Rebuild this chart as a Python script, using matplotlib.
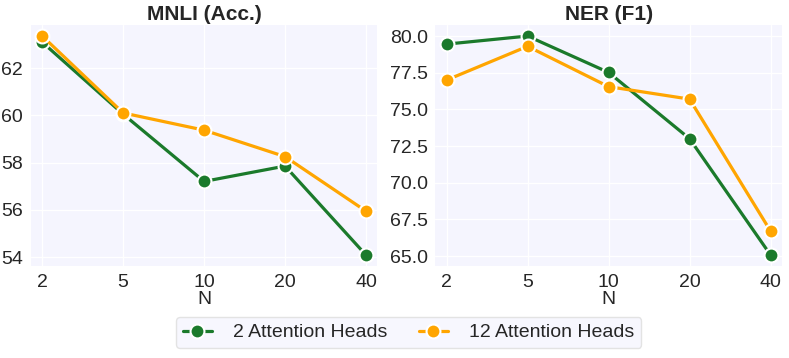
import matplotlib
matplotlib.use("Agg")
import matplotlib.pyplot as plt
import seaborn as sns

sns.set_style("darkgrid")
plt.rcParams["font.family"] = ["Liberation Sans", "DejaVu Sans"]

n_values = ["2", "5", "10", "20", "40"]
mnli_2heads = [63.1, 60.05, 57.2, 57.85, 54.08]
mnli_12heads = [63.36, 60.1, 59.37, 58.25, 55.94]
ner_2heads = [79.45, 80.0, 77.52, 73.0, 65.07]
ner_12heads = [77.0, 79.3, 76.55, 75.7, 66.7]

green = "#1b7a2b"
orange = "#ffa500"
bg = "#f5f5fe"

fig, axes = plt.subplots(1, 2, figsize=(7.89, 3.58), dpi=100)
fig.subplots_adjust(left=0.039, right=0.991, top=0.93, bottom=0.257, wspace=0.167)

panels = [
    (axes[0], "MNLI (Acc.)", mnli_2heads, mnli_12heads, (53.62, 63.82), [54, 56, 58, 60, 62], "{:.0f}"),
    (axes[1], "NER (F1)", ner_2heads, ner_12heads, (64.32, 80.75), [65, 67.5, 70, 72.5, 75, 77.5, 80], "{:.1f}"),
]

x = range(len(n_values))
for ax, title, a, b, ylim, yt, fmt in panels:
    ax.set_facecolor(bg)
    ax.plot(x, a, color=green, lw=2.3, marker="o", ms=10, mec="white", mew=1.5, label="2 Attention Heads")
    ax.plot(x, b, color=orange, lw=2.3, marker="o", ms=10, mec="white", mew=1.5, label="12 Attention Heads")
    ax.set_xticks(list(x))
    ax.set_xticklabels(n_values)
    ax.set_xlim(-0.14, 4.14)
    ax.set_ylim(*ylim)
    ax.set_yticks(yt)
    ax.set_yticklabels([fmt.format(v) for v in yt])
    ax.set_title(title, fontsize=15, fontweight="bold", pad=4)
    ax.set_xlabel("N", fontsize=14, labelpad=0)
    ax.tick_params(labelsize=14, pad=2, colors="#262626")
    ax.grid(color="white", lw=1)
    for s in ax.spines.values():
        s.set_visible(False)

handles, labels = axes[0].get_legend_handles_labels()
leg = fig.legend(handles, labels, loc="lower center", ncol=2, fontsize=14,
                 bbox_to_anchor=(0.518, 0.0), handlelength=1.5, columnspacing=1.6,
                 handletextpad=1.1, borderpad=0.35,
                 frameon=True, facecolor=bg, edgecolor="#dddddd", fancybox=True)

fig.savefig("out.png", dpi=100)
